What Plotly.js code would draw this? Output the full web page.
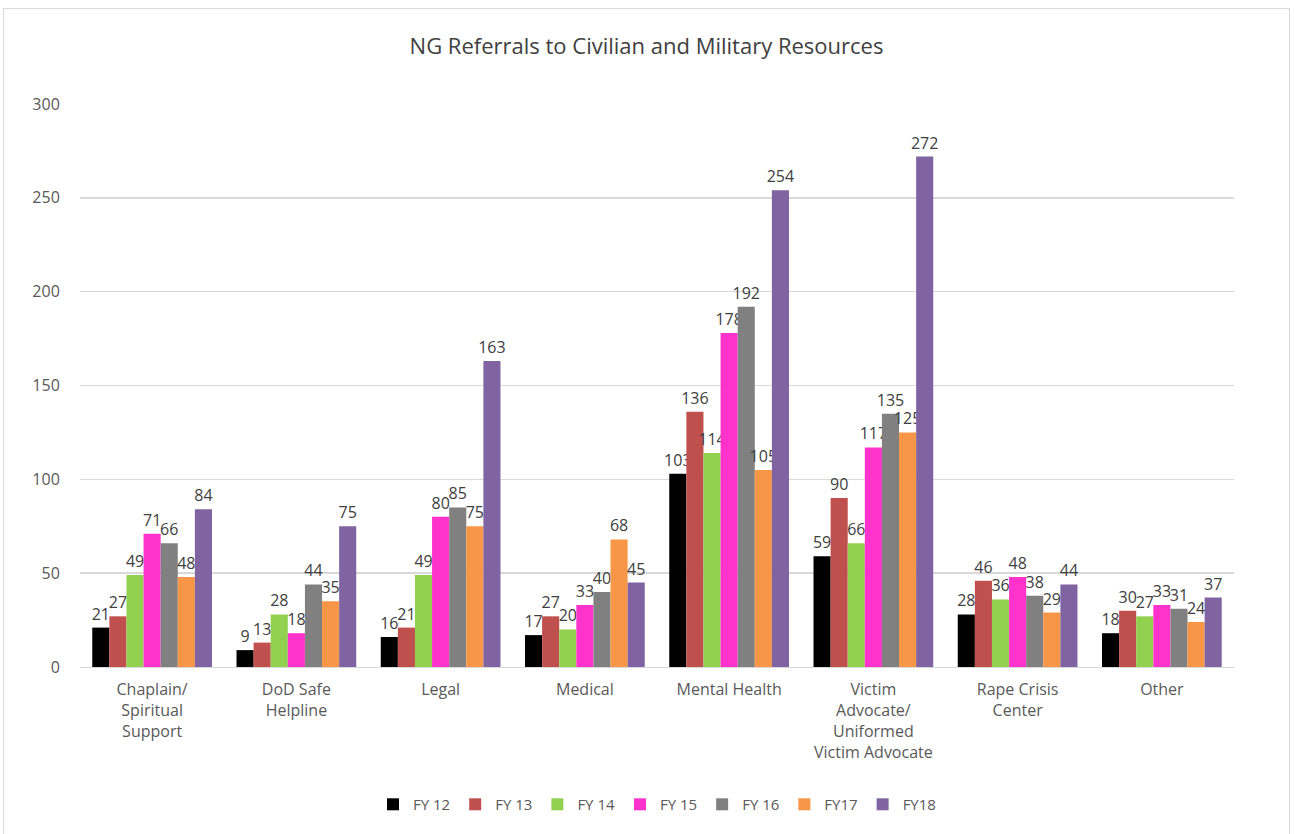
<!DOCTYPE html>
<html>
<head>
<meta charset="utf-8">
<script src="https://cdn.plot.ly/plotly-3.0.1.min.js"></script>
<style>
  html, body { margin: 0; padding: 0; background: #ffffff; }
  #frame { position: absolute; left: 3px; top: 8px; width: 1287px; height: 830px; border: 1px solid #d9d9d9; box-sizing: border-box; }
  #chart { position: absolute; left: 0; top: 0; width: 1285px; height: 828px; }
</style>
</head>
<body>
<div id="frame"><div id="chart"></div></div>
<script>
const categories = [
  "Chaplain/<br>Spiritual<br>Support",
  "DoD Safe<br>Helpline",
  "Legal",
  "Medical",
  "Mental Health",
  "Victim<br>Advocate/<br>Uniformed<br>Victim Advocate",
  "Rape Crisis<br>Center",
  "Other"
];
const seriesNames = ["FY 12", "FY 13", "FY 14", "FY 15", "FY 16", "FY17", "FY18"];
const fy12 = [21, 9, 16, 17, 103, 59, 28, 18];
const fy13 = [27, 13, 21, 27, 136, 90, 46, 30];
const fy14 = [49, 28, 49, 20, 114, 66, 36, 27];
const fy15 = [71, 18, 80, 33, 178, 117, 48, 33];
const fy16 = [66, 44, 85, 40, 192, 135, 38, 31];
const fy17 = [48, 35, 75, 68, 105, 125, 29, 24];
const fy18 = [84, 75, 163, 45, 254, 272, 44, 37];
const seriesValues = [fy12, fy13, fy14, fy15, fy16, fy17, fy18];
const colors = ["#000000", "#C0504D", "#92D050", "#FF33CC", "#808080", "#F79646", "#8064A2"];

const fontFam = "'Open Sans', 'Liberation Sans', sans-serif";
const traces = seriesValues.map((vals, i) => ({
  type: "bar",
  name: seriesNames[i],
  x: categories,
  y: vals,
  marker: { color: colors[i], line: { width: 0 } },
  text: vals.map(String),
  textposition: "outside",
  constraintext: "none",
  cliponaxis: false,
  textfont: { family: fontFam, size: 16, color: "#404040" }
}));

const layout = {
  width: 1285,
  height: 828,
  paper_bgcolor: "#ffffff",
  plot_bgcolor: "#ffffff",
  font: { family: fontFam, color: "#595959" },
  title: { text: "NG Referrals to Civilian and Military Resources", font: { family: fontFam, size: 22, color: "#404040" }, x: 0.5, xanchor: "center", y: 0.955, yanchor: "middle" },
  margin: { l: 76, r: 55, t: 95, b: 170 },
  barmode: "group",
  bargap: 0.17,
  bargroupgap: 0,
  showlegend: true,
  legend: { orientation: "h", x: 0.5, xanchor: "center", y: -0.215, yanchor: "top", font: { family: fontFam, size: 15, color: "#595959" }, itemwidth: 30, traceorder: "normal" },
  xaxis: {
    type: "category",
    tickfont: { family: fontFam, size: 16, color: "#595959" },
    showline: true,
    linecolor: "#d9d9d9",
    ticks: "",
    ticklabelstandoff: 8,
    showgrid: false
  },
  yaxis: {
    range: [0, 300],
    dtick: 50,
    tickfont: { family: fontFam, size: 16, color: "#595959" },
    gridcolor: "#d9d9d9",
    gridwidth: 1.5,
    zeroline: false,
    showline: false,
    ticks: "outside",
    ticklen: 16,
    tickcolor: "rgba(0,0,0,0)"
  }
};

Plotly.newPlot("chart", traces, layout, { displayModeBar: false, staticPlot: true });
</script>
</body>
</html>
